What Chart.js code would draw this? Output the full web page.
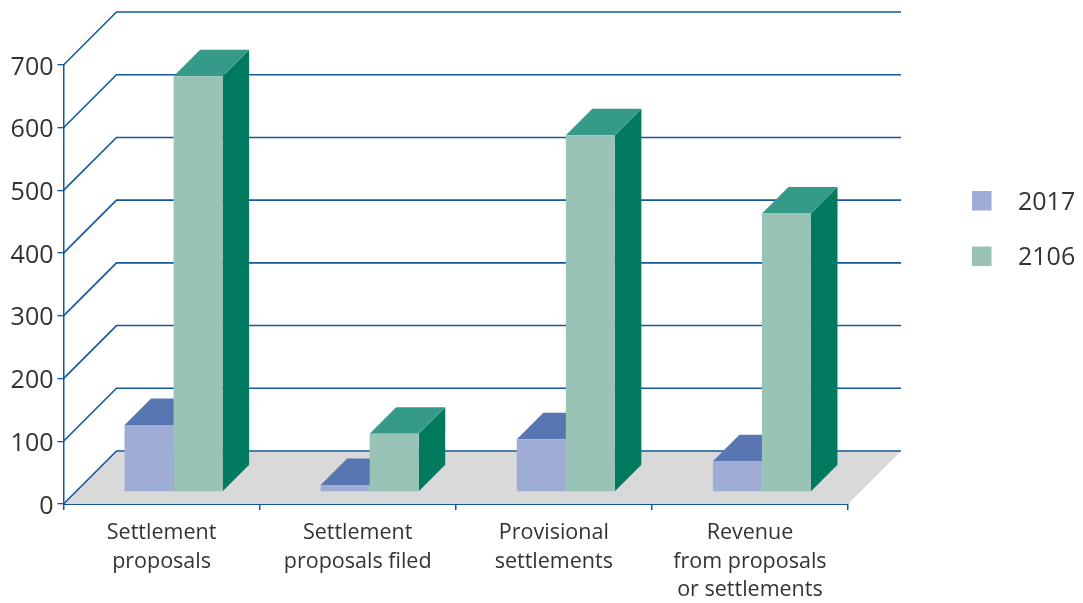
<!DOCTYPE html>
<html>
<head>
<meta charset="utf-8">
<style>
  html, body { margin: 0; padding: 0; background: #fff; }
  #wrap { width: 1083px; height: 603px; }
</style>
<script src="https://cdn.jsdelivr.net/npm/chart.js@4/dist/chart.umd.min.js"></script>
</head>
<body>
<div id="wrap"><canvas id="chart" width="1083" height="603"></canvas></div>
<script>
const categories = [
    ["Settlement", "proposals"],
    ["Settlement", "proposals filed"],
    ["Provisional", "settlements"],
    ["Revenue", "from proposals", "or settlements"]
];
const values2017 = [107, 11, 84, 49];
const values2106 = [663, 93, 569, 444];
const seriesNames = ["2017", "2106"];

const frontColors = ["#9eacd6", "#9ac3b8"];
const topColors = ["#5876b2", "#359b88"];
const sideColors = ["#4a669f", "#007a5e"];
const lineColor = "#12589f";
const textColor = "#333333";

const wallDepth = 53;  // floor / back wall offset
const barDepth = 26.5; // bar extrusion
const barInset = 12;   // bars stand a bit behind the front edge

function poly(ctx, pts, fill) {
    ctx.beginPath();
    pts.forEach((p, i) => i ? ctx.lineTo(p[0], p[1]) : ctx.moveTo(p[0], p[1]));
    ctx.closePath();
    ctx.fillStyle = fill;
    ctx.fill();
}

// Back wall, floor and the fake 3D faces of the bars
const depthPlugin = {
    id: "depth",
    beforeDatasetsDraw(chart) {
        const ctx = chart.ctx;
        const { left, right } = chart.chartArea;
        const yScale = chart.scales.y;
        const y0 = yScale.getPixelForValue(0);

        poly(ctx, [[left, y0], [right, y0], [right + wallDepth, y0 - wallDepth], [left + wallDepth, y0 - wallDepth]], "#d9d9d9");

        ctx.save();
        ctx.strokeStyle = lineColor;
        ctx.lineWidth = 1.6;
        yScale.ticks.forEach(t => {
            const y = yScale.getPixelForValue(t.value);
            ctx.beginPath();
            ctx.moveTo(left, y);
            ctx.lineTo(left + wallDepth, y - wallDepth);
            ctx.lineTo(right + wallDepth, y - wallDepth);
            ctx.stroke();
        });
        ctx.restore();

        chart.data.datasets.forEach((ds, i) => {
            chart.getDatasetMeta(i).data.forEach(bar => {
                const l = bar.x - bar.width / 2 + barInset;
                const r = bar.x + bar.width / 2 + barInset;
                const t = bar.y - barInset;
                const b = bar.base - barInset;
                poly(ctx, [[r, t], [r + barDepth, t - barDepth], [r + barDepth, b - barDepth], [r, b]], sideColors[i]);
                poly(ctx, [[l, t], [r, t], [r + barDepth, t - barDepth], [l + barDepth, t - barDepth]], topColors[i]);
            });
        });

        ctx.save();
        ctx.translate(barInset, -barInset);
    },
    afterDatasetsDraw(chart) {
        chart.ctx.restore();
    },
    afterDraw(chart) {
        // legend sits apart from its swatches more than the built-in one allows
        const ctx = chart.ctx;
        ctx.save();
        ctx.font = "25px 'Open Sans'";
        ctx.textBaseline = "middle";
        chart.data.datasets.forEach((ds, i) => {
            const y = 201 + i * 55.5;
            ctx.fillStyle = ds.backgroundColor;
            ctx.fillRect(972, y - 10, 19.5, 19.5);
            ctx.fillStyle = textColor;
            ctx.fillText(ds.label, 1018, y + 1.5);
        });
        ctx.restore();
    }
};

new Chart(document.getElementById("chart"), {
    type: "bar",
    data: {
        labels: categories,
        datasets: [
            { label: seriesNames[0], data: values2017, backgroundColor: frontColors[0] },
            { label: seriesNames[1], data: values2106, backgroundColor: frontColors[1] }
        ]
    },
    options: {
        responsive: false,
        animation: false,
        layout: { padding: { top: 65, right: 235, left: 0, bottom: 0 } },
        datasets: { bar: { categoryPercentage: 0.5, barPercentage: 1 } },
        plugins: { legend: { display: false }, tooltip: { enabled: false } },
        scales: {
            x: {
                afterFit(s) { s.height = 99; },
                border: { color: lineColor, width: 2 },
                grid: { drawOnChartArea: false, color: lineColor, tickLength: 6, lineWidth: 1.5 },
                ticks: {
                    color: textColor,
                    font: { family: "'Open Sans'", size: 21.5, lineHeight: 1.33 },
                    padding: 8.5,
                    maxRotation: 0
                }
            },
            y: {
                min: 0,
                max: 700,
                afterFit(s) { s.width = 63.5; },
                border: { color: lineColor, width: 1.5 },
                grid: { drawOnChartArea: false, color: lineColor, tickLength: 6, lineWidth: 1.3 },
                ticks: {
                    stepSize: 100,
                    color: textColor,
                    // blank first line nudges the number down a little
                    callback: v => ["", String(v)],
                    font: { family: "'Open Sans'", size: 25, lineHeight: 0.2 },
                    padding: 4
                }
            }
        }
    },
    plugins: [depthPlugin]
});
</script>
</body>
</html>
